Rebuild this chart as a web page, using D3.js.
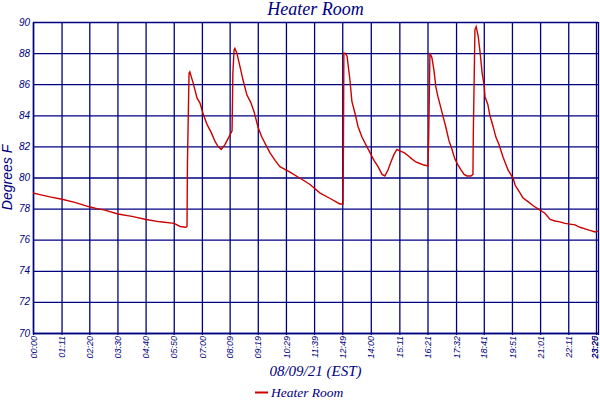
<!DOCTYPE html>
<html>
<head>
<meta charset="utf-8">
<script src="https://cdn.jsdelivr.net/npm/d3@7"></script>
<style>
html,body{margin:0;padding:0;background:#fff;}
svg{display:block;}
</style>
</head>
<body>
<svg id="chart" width="600" height="400"></svg>
<script>
const title = "Heater Room";
const xTitle = "08/09/21 (EST)";
const yTitle = "Degrees F";
const seriesName = "Heater Room";

// time in minutes after midnight
const minutes = [0,17,42,72,104,142,159,179,211,246,281,316,351,366,380,383,384,388,390,398,408,415,423,433,443,453,460,468,477,487,495,497,500,502,507,515,522,532,542,550,560,569,579,589,602,614,639,664,689,714,739,763,771,772,773,776,781,788,793,801,808,818,828,838,848,858,868,875,883,890,898,905,913,923,933,942,952,962,972,982,984,987,992,997,1002,1007,1012,1020,1027,1034,1042,1049,1057,1064,1072,1079,1089,1094,1095,1097,1099,1102,1107,1112,1117,1122,1124,1131,1136,1144,1151,1159,1169,1181,1194,1199,1209,1218,1231,1243,1258,1273,1286,1298,1310,1323,1335,1348,1360,1373,1385,1398,1405];
const tempF = [79.0,78.9,78.75,78.6,78.4,78.1,78.0,77.9,77.65,77.5,77.3,77.15,77.05,76.85,76.8,76.85,80.8,86.7,86.8,86.1,85.1,84.8,84.1,83.4,82.9,82.3,82.0,81.8,82.1,82.6,83.0,86.7,88.2,88.3,88.0,87.1,86.3,85.3,84.8,84.2,83.2,82.6,82.1,81.6,81.1,80.7,80.35,79.95,79.55,79.0,78.65,78.3,78.3,82.2,88.0,88.0,87.8,86.3,84.9,84.1,83.3,82.6,82.1,81.6,81.1,80.7,80.2,80.1,80.5,81.0,81.5,81.8,81.7,81.6,81.4,81.2,81.0,80.9,80.8,80.75,82.6,88.0,87.7,86.9,85.8,85.2,84.7,83.9,83.2,82.4,81.8,81.2,80.8,80.5,80.2,80.1,80.1,80.2,82.9,86.2,89.5,89.7,89.1,88.0,86.7,85.9,85.2,84.7,84.0,83.3,82.6,82.1,81.3,80.5,79.95,79.5,79.1,78.7,78.45,78.2,77.95,77.7,77.3,77.2,77.15,77.05,77.0,76.95,76.8,76.7,76.6,76.5,76.55];

const xTickMinutes = [0,71,140,210,280,350,420,489,559,629,699,769,840,911,981,1052,1121,1191,1261,1331,1400,1405];
const xTickLabels = ["00:00","01:11","02:20","03:30","04:40","05:50","07:00","08:09","09:19","10:29","11:39","12:49","14:00","15:11","16:21","17:32","18:41","19:51","21:01","22:11","23:20","23:25"];
const yTicks = [70,72,74,76,78,80,82,84,86,88,90];

const navy = "#000080";
const lineColor = "#cc0000";
const m = {left:33, right:598, top:22, bottom:333};

const svg = d3.select("#chart");
const x = d3.scaleLinear().domain([0, 1405]).range([m.left, m.right]);
const y = d3.scaleLinear().domain([70, 90]).range([m.bottom, m.top]);

// gridlines via axes
const gx = svg.append("g").attr("transform", `translate(0,${m.bottom})`)
  .call(d3.axisBottom(x).tickValues(xTickMinutes).tickFormat((d,i)=>xTickLabels[i])
    .tickSizeInner(-(m.bottom-m.top)).tickSizeOuter(0).tickPadding(0));
gx.select(".domain").attr("stroke", navy).attr("stroke-width",1.5);
gx.selectAll(".tick line").attr("stroke", navy).attr("stroke-width",1.3).attr("y2", -(m.bottom-m.top)).attr("y1", 2);
gx.selectAll(".tick text")
  .attr("transform","rotate(-90)")
  .attr("x",-3)
  .attr("y", d => Math.min(0, 594.5 - x(d)))
  .attr("dy","0.35em")
  .attr("text-anchor","end")
  .attr("fill", navy)
  .style("font-family","'Liberation Sans', Arial, sans-serif")
  .style("font-style","italic")
  .style("font-size","9px");

const gy = svg.append("g").attr("transform", `translate(${m.left},0)`)
  .call(d3.axisLeft(y).tickValues(yTicks).tickFormat(d3.format("d"))
    .tickSizeInner(-(m.right-m.left)).tickSizeOuter(0).tickPadding(3));
gy.select(".domain").attr("stroke", navy).attr("stroke-width",1.5);
gy.selectAll(".tick line").attr("stroke", navy).attr("stroke-width",1.3);
gy.selectAll(".tick text")
  .attr("fill", navy)
  .attr("dy","0.3em")
  .style("font-family","'Liberation Sans', Arial, sans-serif")
  .style("font-style","italic")
  .style("font-size","10px");

// data line
const data = minutes.map((t,i)=>({t, v: tempF[i]}));
svg.append("path").datum(data)
  .attr("fill","none").attr("stroke", lineColor).attr("stroke-width",1.4)
  .attr("d", d3.line().x(d=>x(d.t)).y(d=>y(d.v)));

// titles
const cx = (m.left + m.right)/2;
svg.append("text").attr("x", cx).attr("y", 15).attr("text-anchor","middle")
  .attr("fill", navy)
  .style("font-family","'Liberation Serif', 'Times New Roman', serif")
  .style("font-style","italic").style("font-size","18px")
  .text(title);

svg.append("text").attr("x", cx).attr("y", 376).attr("text-anchor","middle")
  .attr("fill", navy)
  .style("font-family","'Liberation Serif', 'Times New Roman', serif")
  .style("font-style","italic").style("font-size","15px")
  .text(xTitle);

svg.append("text").attr("transform", `translate(12,${(m.top+m.bottom)/2}) rotate(-90)`)
  .attr("text-anchor","middle")
  .attr("fill", navy)
  .style("font-family","'Liberation Sans', Arial, sans-serif")
  .style("font-style","italic").style("font-size","14px")
  .text(yTitle);

// legend
svg.append("line").attr("x1",255).attr("x2",268).attr("y1",392.5).attr("y2",392.5)
  .attr("stroke", lineColor).attr("stroke-width",2);
svg.append("text").attr("x",271).attr("y",396.5)
  .attr("fill", navy)
  .style("font-family","'Liberation Serif', 'Times New Roman', serif")
  .style("font-style","italic").style("font-size","13.5px")
  .text(seriesName);
</script>
</body>
</html>
